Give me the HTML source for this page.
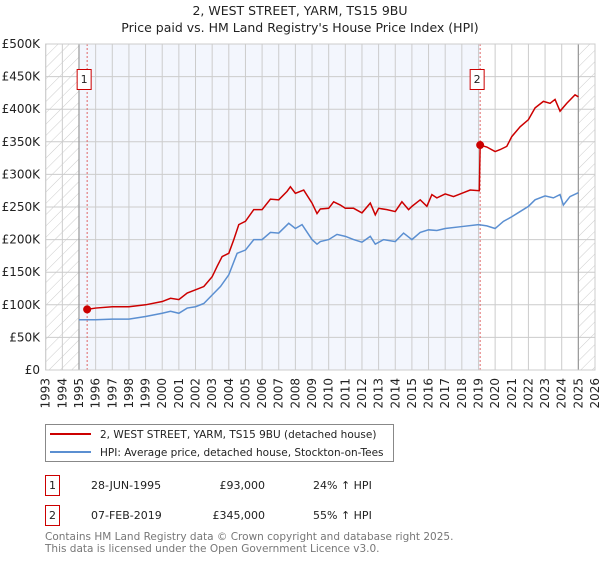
<!DOCTYPE html>
<html><head><meta charset="utf-8"><style>
body{margin:0;background:#fff;}
svg text{font-family:"DejaVu Sans","Liberation Sans",sans-serif;}
</style></head><body>
<svg width="600" height="560" viewBox="0 0 600 560">
<defs>
<pattern id="hatch" width="8" height="8" patternUnits="userSpaceOnUse" patternTransform="rotate(45)">
<line x1="0" y1="0" x2="0" y2="8" stroke="#ccc" stroke-width="1"/>
</pattern>
</defs>
<text x="300" y="15" text-anchor="middle" font-size="12.5" fill="#222">2, WEST STREET, YARM, TS15 9BU</text>
<text x="300" y="32" text-anchor="middle" font-size="12.5" fill="#222">Price paid vs. HM Land Registry's House Price Index (HPI)</text>
<g id="plot"></g>
<g>
<rect x="45.5" y="424.5" width="348" height="37" fill="#fff" stroke="#888"/>
<line x1="50" y1="434" x2="91" y2="434" stroke="#cc0000" stroke-width="2"/>
<text x="100" y="438" font-size="10.5" fill="#222">2, WEST STREET, YARM, TS15 9BU (detached house)</text>
<line x1="50" y1="452" x2="91" y2="452" stroke="#5b8fd1" stroke-width="2"/>
<text x="100" y="456" font-size="10.5" fill="#222">HPI: Average price, detached house, Stockton-on-Tees</text>
</g>
<g font-size="11" fill="#222">
<rect x="45.5" y="475.5" width="14" height="20" fill="#fff" stroke="#cc0000"/>
<text x="52.5" y="489" text-anchor="middle">1</text>
<text x="91" y="489">28-JUN-1995</text>
<text x="265" y="489" text-anchor="end">£93,000</text>
<text x="313" y="489">24% ↑ HPI</text>
<rect x="45.5" y="505.5" width="14" height="20" fill="#fff" stroke="#cc0000"/>
<text x="52.5" y="519" text-anchor="middle">2</text>
<text x="91" y="519">07-FEB-2019</text>
<text x="265" y="519" text-anchor="end">£345,000</text>
<text x="313" y="519">55% ↑ HPI</text>
</g>
<text x="45" y="540" font-size="10.5" fill="#777">Contains HM Land Registry data © Crown copyright and database right 2025.</text>
<text x="45" y="552" font-size="10.5" fill="#777">This data is licensed under the Open Government Licence v3.0.</text>
</svg>
<script>
const priceYears=[1995.49,1996,1997,1998,1999,2000,2000.5,2001,2001.5,2002,2002.5,2003,2003.3,2003.6,2004,2004.3,2004.6,2005,2005.5,2006,2006.5,2007,2007.5,2007.7,2008,2008.5,2009,2009.3,2009.5,2010,2010.3,2010.7,2011,2011.5,2012,2012.5,2012.8,2013,2013.5,2014,2014.4,2014.8,2015,2015.5,2015.9,2016.2,2016.5,2017,2017.5,2018,2018.5,2019.05,2019.1,2019.5,2020,2020.3,2020.7,2021,2021.5,2022,2022.4,2022.9,2023.3,2023.6,2023.9,2024.3,2024.8,2025];
const priceValues=[93000,95000,97000,97000,100000,105000,110000,108000,118000,123000,128000,143000,159000,174000,179000,200000,223000,228000,246000,246000,262000,261000,274000,281000,271000,276000,256000,240000,247000,248000,258000,253000,248000,248000,241000,256000,238000,248000,246000,243000,258000,246000,251000,261000,251000,269000,264000,270000,266000,271000,276000,275000,345000,342000,335000,338000,343000,358000,373000,384000,402000,412000,409000,415000,397000,409000,422000,419000];
const hpiYears=[1995,1996,1997,1998,1999,2000,2000.5,2001,2001.5,2002,2002.5,2003,2003.5,2004,2004.5,2005,2005.5,2006,2006.5,2007,2007.6,2008,2008.4,2009,2009.3,2009.5,2010,2010.5,2011,2011.5,2012,2012.5,2012.8,2013.3,2014,2014.5,2015,2015.5,2016,2016.5,2017,2018,2019,2019.5,2020,2020.5,2021,2021.5,2022,2022.4,2023,2023.5,2023.9,2024.1,2024.5,2025];
const hpiValues=[77000,77000,78000,78000,82000,87000,90000,87000,95000,97000,102000,115000,128000,146000,179000,184000,200000,200000,211000,210000,225000,217000,223000,200000,193000,197000,200000,208000,205000,200000,196000,205000,193000,200000,197000,210000,200000,211000,215000,214000,217000,220000,223000,221000,217000,228000,235000,243000,251000,261000,267000,264000,269000,253000,266000,272000];
const yTicks=[0,50000,100000,150000,200000,250000,300000,350000,400000,450000,500000];
const yTickLabels=["£0","£50K","£100K","£150K","£200K","£250K","£300K","£350K","£400K","£450K","£500K"];
const xYears=[1993,1994,1995,1996,1997,1998,1999,2000,2001,2002,2003,2004,2005,2006,2007,2008,2009,2010,2011,2012,2013,2014,2015,2016,2017,2018,2019,2020,2021,2022,2023,2024,2025,2026];
const sales=[{n:"1",year:1995.49,value:93000},{n:"2",year:2019.1,value:345000}];

const X0=45.7,X1=595,Y0=370,Y1=44;
const x=y=>X0+(y-1993)/(2026-1993)*(X1-X0);
const yv=v=>Y0-v/500000*(Y0-Y1);
const NS="http://www.w3.org/2000/svg";
const g=document.getElementById('plot');
function mk(t,a,p){const e=document.createElementNS(NS,t);for(const k in a)e.setAttribute(k,a[k]);(p||g).appendChild(e);return e;}

const bg=mk('rect',{x:X0,y:Y1,width:X1-X0,height:Y0-Y1,fill:'#fff'});


const sh=mk('rect',{x:x(1995),y:Y1,width:x(sales[1].year)-x(1995),height:Y0-Y1,fill:'#f3f6fd'});


const h1=mk('rect',{x:X0,y:Y1,width:x(1995)-X0,height:Y0-Y1,fill:'url(#hatch)'});


const h2=mk('rect',{x:x(2025),y:Y1,width:X1-x(2025),height:Y0-Y1,fill:'url(#hatch)'});



xYears.forEach(yr=>{
  const l=mk('line',{x1:x(yr),x2:x(yr),y1:Y1,y2:Y0,stroke:'#ccc','stroke-width':1});
  
  
  const t=mk('text',{x:0,y:0,'font-size':12,fill:'#222','text-anchor':'end',transform:`translate(${x(yr)+4},${Y0+8}) rotate(-90)`});
  t.textContent=yr;
  
  
});
yTicks.forEach((v,i)=>{
  const l=mk('line',{x1:X0,x2:X1,y1:yv(v),y2:yv(v),stroke:'#ccc','stroke-width':1});
  
  
  const t=mk('text',{x:40,y:yv(v)+4,'font-size':12,fill:'#222','text-anchor':'end'});
  t.textContent=yTickLabels[i];
  
  
});
const e1=mk('line',{x1:x(1995),x2:x(1995),y1:Y1,y2:Y0,stroke:'#999','stroke-width':1.2});


const e2=mk('line',{x1:x(2025),x2:x(2025),y1:Y1,y2:Y0,stroke:'#999','stroke-width':1.2});



sales.forEach(s=>{
  const l=mk('line',{x1:x(s.year),x2:x(s.year),y1:Y1,y2:Y0,stroke:'#e06666','stroke-width':1,'stroke-dasharray':'2,2'});
  
  
});

const hp=mk('polyline',{points:hpiYears.map((yr,i)=>x(yr)+','+yv(hpiValues[i])).join(' '),fill:'none',stroke:'#5b8fd1','stroke-width':1.5});


const pp=mk('polyline',{points:priceYears.map((yr,i)=>x(yr)+','+yv(priceValues[i])).join(' '),fill:'none',stroke:'#cc0000','stroke-width':1.5});



sales.forEach(s=>{
  const c=mk('circle',{cx:x(s.year),cy:yv(s.value),r:4,fill:'#cc0000'});
  
  
  const bx=x(s.year)-10;
  const r=mk('rect',{x:bx,y:69.5,width:14,height:20,fill:'#fff',stroke:'#cc0000'});
  
  
  const t=mk('text',{x:bx+7,y:83,'font-size':11,fill:'#222','text-anchor':'middle'});
  t.textContent=s.n;
  
  
});
const bd=mk('rect',{x:X0,y:Y1,width:X1-X0,height:Y0-Y1,fill:'none',stroke:'#ccc'});


</script>
</body></html>
